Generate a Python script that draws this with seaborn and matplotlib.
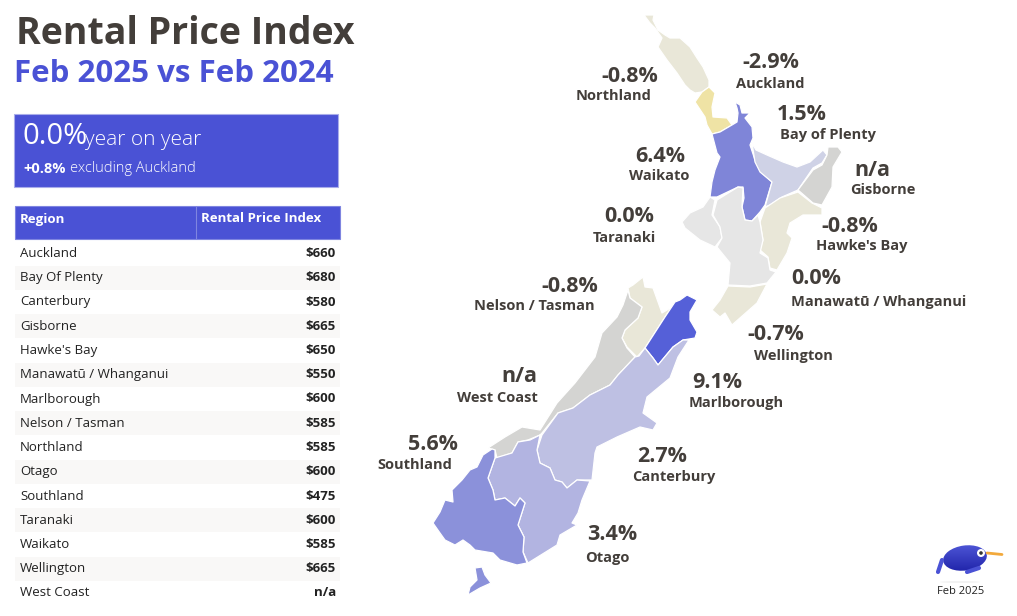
import matplotlib
matplotlib.use("Agg")
import matplotlib.pyplot as plt
from matplotlib.patches import Polygon, Rectangle, Ellipse, Circle
import numpy as np
import seaborn as sns

# Table data
regions = ["Auckland", "Bay Of Plenty", "Canterbury", "Gisborne", "Hawke's Bay",
           "Manawatū / Whanganui", "Marlborough", "Nelson / Tasman", "Northland",
           "Otago", "Southland", "Taranaki", "Waikato", "Wellington", "West Coast"]
rents = ["$660", "$680", "$580", "$665", "$650", "$550", "$600", "$585",
         "$585", "$600", "$475", "$600", "$585", "$665", "n/a"]

# Map labels
map_names = ["Northland", "Auckland", "Bay of Plenty", "Gisborne", "Waikato", "Taranaki",
             "Hawke's Bay", "Manawatū / Whanganui", "Nelson / Tasman", "Wellington",
             "West Coast", "Marlborough", "Southland", "Canterbury", "Otago"]
map_changes = ["-0.8%", "-2.9%", "1.5%", "n/a", "6.4%", "0.0%", "-0.8%", "0.0%",
               "-0.8%", "-0.7%", "n/a", "9.1%", "5.6%", "2.7%", "3.4%"]

# Region outlines
northland = [(644,15),(654,15),(653,20),(658,30),(665,35),(670,38),(680,38),(690,47),(697,58),(703,67),
             (709,80),(709,87),(702,92),(695,93),(690,90),(685,85),(677,73),(667,60),(658,47),(662,38),(655,28),(650,23)]
auckland = [(709,87),(715,93),(712,107),(713,117),(727,118),(732,125),(720,132),(712,134),(707,125),(705,117),(695,102),(702,92)]
waikato = [(735,102),(740,105),(742,113),(750,113),(745,118),(752,127),(753,138),(750,145),(755,160),(762,173),(772,182),
           (765,205),(760,212),(752,221),(745,220),(742,207),(744,198),(743,187),(738,187),(717,197),(710,197),(712,182),
           (715,170),(720,157),(717,153),(712,134),(720,132),(732,125),(737,122),(738,113),(737,108)]
bay_of_plenty = [(752,143),(756,150),(767,155),(783,162),(797,167),(810,162),(823,150),(827,155),(822,163),(813,168),
                 (798,190),(782,197),(770,205),(765,207),(772,182),(760,172),(755,162)]
gisborne = [(828,147),(838,147),(842,152),(833,167),(832,187),(822,205),(813,203),(798,190),(813,170),(822,165),(827,155)]
hawkes_bay = [(798,192),(812,203),(822,208),(822,215),(803,215),(790,223),(787,233),(792,238),(787,253),(777,270),(770,268),
              (768,257),(760,250),(763,240),(760,222),(765,208),(780,198)]
taranaki = [(710,197),(715,200),(712,215),(720,227),(722,238),(715,247),(700,240),(685,228),(682,222),(690,213),(703,207)]
manawatu = [(717,200),(738,187),(743,188),(742,207),(745,220),(752,221),(758,215),(760,222),(763,240),(760,253),(768,258),
            (770,270),(776,272),(767,283),(750,286),(728,285),(730,263),(717,247),(722,238),(720,227),(713,215)]
wellington = [(728,286),(750,287),(767,284),(757,303),(732,325),(725,313),(720,317),(712,310),(720,300)]
nelson = [(633,285),(643,277),(645,287),(653,288),(662,313),(672,307),(665,317),(645,348),(637,357),(627,347),(622,338),
          (625,330),(638,318),(642,307),(630,298),(628,288)]
marlborough = [(675,302),(680,300),(687,295),(697,300),(690,312),(690,320),(697,332),(695,338),(683,340),(673,347),(658,365),
               (653,358),(645,348),(665,317)]
west_coast = [(628,290),(630,298),(642,307),(638,318),(625,330),(622,338),(627,348),(635,357),(618,375),(610,385),(590,395),
              (573,408),(558,413),(542,433),(540,435),(528,440),(518,442),(512,453),(497,458),(495,450),(488,448),(505,437),
              (522,427),(540,430),(557,403),(575,383),(595,357),(602,333),(617,317),(623,305)]
canterbury = [(645,348),(653,358),(658,365),(673,347),(683,340),(689,340),(678,357),(670,378),(647,397),(643,413),(657,423),
              (653,430),(640,427),(617,437),(597,447),(595,453),(592,480),(577,480),(567,488),(562,482),(555,480),(550,468),
              (540,463),(537,450),(542,435),(558,413),(573,408),(590,395),(610,385),(618,375),(635,357),(639,356)]
otago = [(540,435),(537,450),(540,463),(550,468),(555,480),(562,482),(567,488),(577,480),(590,481),(582,500),(578,513),(572,523),
         (577,525),(560,535),(557,545),(528,563),(523,552),(524,537),(518,525),(525,503),(520,498),(515,506),(505,498),(495,500),
         (493,490),(488,478),(495,458),(512,453),(518,442),(530,440)]
southland = [(492,449),(495,450),(495,458),(488,478),(493,490),(495,500),(505,498),(515,506),(520,498),(525,503),(518,525),(524,537),
             (523,552),(527,563),(517,565),(500,560),(493,553),(475,550),(470,545),(463,540),(455,545),(445,540),(440,533),
             (433,523),(440,512),(445,500),(453,502),(452,490),(462,480),(470,470),(477,467),(483,455)]
stewart = [(475,568),(482,567),(485,575),(491,583),(480,588),(468,595),(470,587),(477,580)]

map_shapes = [northland, auckland, waikato, bay_of_plenty, gisborne, hawkes_bay, taranaki, manawatu,
              wellington, nelson, marlborough, west_coast, canterbury, otago, southland, stewart]
map_colors = ["#E9E7D8", "#EFE3A5", "#7F85D8", "#CFD2E6", "#D4D4D2", "#E9E7D8", "#E6E6E6", "#E6E6E6",
              "#E9E7D8", "#E9E7D8", "#5560D8", "#D4D4D2", "#BEC0E3", "#B2B4E1", "#8B91DA", "#8B91DA"]

# Label layout: change centre, name centre
change_xy = [(630,77),(771,63),(802,114),(872,170),(660,156),(629,217),(850,226),(816,279),
             (570,286),(776,334),(519,376),(717,382),(433,444),(662,457),(612,534)]
name_xy = [(614,96),(770,84),(828,135),(883,190),(659,176),(624,238),(862,246),(879,302),
           (534,306),(793,356),(497,398),(736,403),(415,465),(674,477),(607,558)]

BLUE = "#4A52D5"
DARK = "#433E3A"

sns.set_theme(style="white")
plt.rcParams["font.family"] = ["Open Sans", "DejaVu Sans"]

fig = plt.figure(figsize=(10.17, 6.16), dpi=100)
ax = fig.add_axes([0, 0, 1, 1])
ax.set_xlim(0, 1017)
ax.set_ylim(616, 0)
ax.axis("off")

# Headings
ax.text(16, 34, "Rental Price Index", fontsize=27, fontweight="bold", color=DARK, va="center")
ax.text(14, 74, "Feb 2025 vs Feb 2024", fontsize=22.5, fontweight="bold", color=BLUE, va="center")

# Summary card
ax.add_patch(Rectangle((14, 114), 324, 73, facecolor=BLUE, edgecolor="#A9ADEA", lw=0.8))
ax.text(22, 137, "0.0%", fontsize=21, color="white", va="center")
ax.text(85, 140, "year on year", fontsize=15, color="white", va="center", fontweight="light")
ax.text(23, 169, "+0.8%", fontsize=10.5, color="white", va="center", fontweight="bold")
ax.text(70, 169, "excluding Auckland", fontsize=10.5, color="white", va="center", fontweight="light")

# Table
ax.add_patch(Rectangle((15, 206), 325, 33, facecolor=BLUE, edgecolor="#7F85E0", lw=0.8))
ax.plot([196, 196], [206, 239], color="#7F85E0", lw=0.8)
ax.text(20, 219, "Region", fontsize=9.5, fontweight="bold", color="white", va="center")
ax.text(201, 219, "Rental Price Index", fontsize=9.5, fontweight="bold", color="white", va="center")
for i, (region, rent) in enumerate(zip(regions, rents)):
    y = 253.5 + i * 24.25
    if i % 2 == 1:
        ax.add_patch(Rectangle((15, y - 12), 325, 24, facecolor="#F9F8F7", edgecolor="none"))
    ax.text(20, y, region, fontsize=9.5, color="#222222", va="center")
    ax.text(336, y, rent, fontsize=9.5, fontweight="bold", color="#222222", va="center", ha="right")

# Map
for shape, color in zip(map_shapes, map_colors):
    ax.add_patch(Polygon(shape, closed=True, facecolor=color, edgecolor="white", lw=0.9, joinstyle="round"))

for name, change, cxy, nxy in zip(map_names, map_changes, change_xy, name_xy):
    ax.text(cxy[0], cxy[1], change, fontsize=15.5, fontweight="bold", color=DARK, ha="center", va="center")
    ax.text(nxy[0], nxy[1], name, fontsize=10.5, fontweight="bold", color=DARK, ha="center", va="center")

# Kiwi logo
ax.add_patch(Ellipse((960, 582), 40, 2, facecolor="#F2F2F2", edgecolor="none"))
body = Ellipse((965, 558), 44, 25, angle=-8, facecolor="none", edgecolor="none")
ax.add_patch(body)
grad = np.linspace(0, 1, 64).reshape(-1, 1)
img = ax.imshow(grad, extent=(940, 990, 573, 543), cmap=sns.blend_palette(["#5058D8", "#1E22A8"], as_cmap=True),
                aspect="auto", zorder=2)
img.set_clip_path(body)
ax.set_xlim(0, 1017)
ax.set_ylim(616, 0)
ax.plot([987, 1002], [553, 554.5], color="#F2A93B", lw=2, solid_capstyle="round", zorder=3)
ax.plot([942, 938], [560, 572], color="#4A52D5", lw=3, solid_capstyle="round", zorder=3)
ax.plot([967, 979], [572, 568], color="#4A52D5", lw=3, solid_capstyle="round", zorder=3)
ax.add_patch(Circle((981, 553), 4, facecolor="white", edgecolor="none", zorder=4))
ax.add_patch(Circle((981, 553), 1.8, facecolor="#333333", edgecolor="none", zorder=5))
ax.text(961, 592, "Feb 2025", fontsize=8, color="#222222", ha="center", va="center")

fig.savefig("out.png", dpi=100)
